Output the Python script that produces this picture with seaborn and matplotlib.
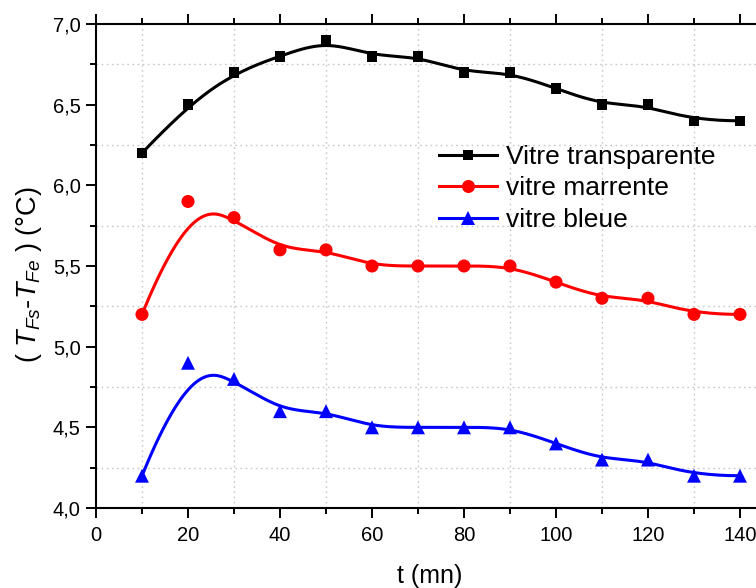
import numpy as np
import pandas as pd
import matplotlib
matplotlib.use("Agg")
import matplotlib.pyplot as plt
from matplotlib.lines import Line2D
from matplotlib.ticker import MultipleLocator, FuncFormatter
import seaborn as sns

# Measurements
t_mn = [10, 20, 30, 40, 50, 60, 70, 80, 90, 100, 110, 120, 130, 140]
transparente = [6.2, 6.5, 6.7, 6.8, 6.9, 6.8, 6.8, 6.7, 6.7, 6.6, 6.5, 6.5, 6.4, 6.4]
marrente = [5.2, 5.9, 5.8, 5.6, 5.6, 5.5, 5.5, 5.5, 5.5, 5.4, 5.3, 5.3, 5.2, 5.2]
bleue = [4.2, 4.9, 4.8, 4.6, 4.6, 4.5, 4.5, 4.5, 4.5, 4.4, 4.3, 4.3, 4.2, 4.2]

series_names = ["Vitre transparente", "vitre marrente", "vitre bleue"]
series_values = [transparente, marrente, bleue]
colors = ["#000000", "#ff0000", "#0000ff"]
markers = ["s", "o", "^"]
marker_sizes = [7.6, 9.4, 10.0]  # points


def bspline(ctrl_x, ctrl_y, k=3, n_eval=400):
    """Clamped uniform B-spline using the data points as control points."""
    P = np.column_stack([ctrl_x, ctrl_y]).astype(float)
    n = len(P)
    inner = np.arange(1, n - k)
    knots = np.concatenate([np.zeros(k + 1), inner, np.full(k + 1, n - k)]).astype(float)
    u = np.linspace(0, n - k, n_eval)
    u[-1] -= 1e-9
    # Cox-de Boor recursion
    N = np.zeros((n_eval, len(knots) - 1))
    for i in range(len(knots) - 1):
        N[:, i] = (u >= knots[i]) & (u < knots[i + 1])
    for d in range(1, k + 1):
        Nn = np.zeros((n_eval, len(knots) - 1 - d))
        for i in range(len(knots) - 1 - d):
            a = knots[i + d] - knots[i]
            b = knots[i + d + 1] - knots[i + 1]
            left = (u - knots[i]) / a * N[:, i] if a > 0 else 0
            right = (knots[i + d + 1] - u) / b * N[:, i + 1] if b > 0 else 0
            Nn[:, i] = left + right
        N = Nn
    C = N @ P
    return C[:, 0], C[:, 1]


plt.rcParams["font.family"] = ["Liberation Sans", "DejaVu Sans"]
plt.rcParams["mathtext.fontset"] = "custom"
plt.rcParams["mathtext.rm"] = "Liberation Sans"
plt.rcParams["mathtext.it"] = "Liberation Sans:italic"

fig = plt.figure(figsize=(7.56, 5.88), dpi=100)
ax = fig.add_axes([96 / 756, 80 / 588, 667 / 756, 484 / 588])

LW = 2.2
for name, vals, c, m, ms in zip(series_names, series_values, colors, markers, marker_sizes):
    cx, cy = bspline(t_mn, vals)
    curve = pd.DataFrame({"t": cx, "v": cy})
    sns.lineplot(data=curve, x="t", y="v", sort=False, color=c, lw=LW, ax=ax,
                 legend=False, zorder=3)
    pts = pd.DataFrame({"t": t_mn, "v": vals})
    sns.scatterplot(data=pts, x="t", y="v", marker=m, s=ms ** 2, color=c,
                    edgecolor="none", linewidth=0, ax=ax, legend=False, zorder=4)

ax.set_xlim(0, 145)
ax.set_ylim(4.0, 7.0)
ax.xaxis.set_major_locator(MultipleLocator(20))
ax.xaxis.set_minor_locator(MultipleLocator(10))
ax.yaxis.set_major_locator(MultipleLocator(0.5))
ax.yaxis.set_minor_locator(MultipleLocator(0.25))
ax.yaxis.set_major_formatter(FuncFormatter(lambda v, p: f"{v:.1f}".replace(".", ",")))

ax.grid(False)
ax.grid(which="minor", color="#c8c8c8", linestyle=(0, (1.2, 2.5)), linewidth=1.0)
ax.set_axisbelow(True)

for s in ax.spines.values():
    s.set_linewidth(1.5)
    s.set_color("black")

ax.tick_params(which="major", direction="out", length=7, width=1.4, labelsize=14.5,
               top=True, colors="black")
ax.tick_params(axis="x", which="major", pad=6)
ax.tick_params(axis="y", which="major", pad=4)
ax.tick_params(which="minor", direction="out", length=4, width=1.4, top=True)
ax.tick_params(axis="x", which="both", labeltop=False)

ax.set_xlabel("t (mn)", fontsize=18, labelpad=14)
ax.set_ylabel(r"( $T_{Fs}$-$T_{Fe}$ ) (°C)", fontsize=19.5)
ax.yaxis.set_label_coords(-0.078, 0.482)

handles = [Line2D([], [], color=c, lw=LW, marker=m, markersize=ms,
                  markeredgewidth=0)
           for c, m, ms in zip(colors, markers, marker_sizes)]
fig.legend(handles, series_names, loc="upper left",
           bbox_to_anchor=(439 / 756, 1 - 145 / 588), frameon=False, fontsize=19,
           borderpad=0, borderaxespad=0, handlelength=2.2, handletextpad=0.35,
           labelspacing=0.28)

fig.savefig("out.png", dpi=100)
